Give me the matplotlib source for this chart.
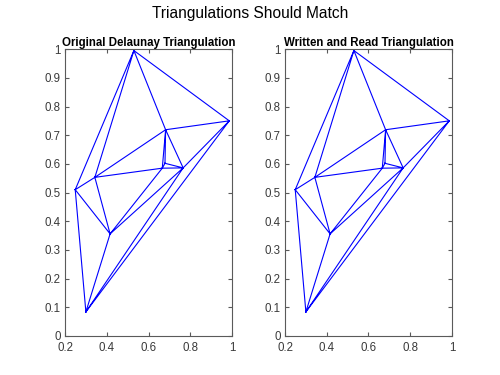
import matplotlib
matplotlib.use("Agg")
import matplotlib.pyplot as plt
import matplotlib.tri as mtri

plt.rcParams['font.family'] = ['Liberation Sans', 'DejaVu Sans']

# vertex coordinates
x = [0.53, 0.987, 0.249, 0.300, 0.343, 0.416, 0.682, 0.666, 0.679, 0.766]
y = [0.995, 0.750, 0.510, 0.084, 0.553, 0.356, 0.719, 0.585, 0.602, 0.586]

# triangles (vertex indices)
triangles = [
    [0, 2, 4], [0, 4, 6], [0, 6, 1], [2, 4, 5], [2, 5, 3],
    [3, 5, 9], [3, 9, 1], [4, 5, 7], [4, 7, 6], [5, 7, 9],
    [6, 9, 1], [6, 8, 9], [6, 7, 8], [7, 8, 9],
]

titles = ['Original Delaunay Triangulation', 'Written and Read Triangulation']
xticks = [0.2, 0.4, 0.6, 0.8, 1]
xticklabels = ['0.2', '0.4', '0.6', '0.8', '1']
yticks = [0, 0.1, 0.2, 0.3, 0.4, 0.5, 0.6, 0.7, 0.8, 0.9, 1]
yticklabels = ['0', '0.1', '0.2', '0.3', '0.4', '0.5', '0.6', '0.7', '0.8', '0.9', '1']

tri = mtri.Triangulation(x, y, triangles)

fig = plt.figure(figsize=(5, 3.75), dpi=100)
axc = '#5a5a5a'
for i, left in enumerate([0.130, 0.570]):
    ax = fig.add_axes([left, 0.104, 0.334, 0.765])
    ax.triplot(tri, color=(0, 0, 1), lw=0.8)
    ax.set_xlim(0.2, 1)
    ax.set_ylim(0, 1)
    ax.set_xticks(xticks)
    ax.set_xticklabels(xticklabels)
    ax.set_yticks(yticks)
    ax.set_yticklabels(yticklabels)
    ax.tick_params(direction='in', top=True, right=True, length=3, width=0.8,
                   color=axc, labelcolor='#3a3a3a', labelsize=8.3)
    ax.tick_params(axis='x', pad=4)
    ax.tick_params(axis='y', pad=3)
    for s in ax.spines.values():
        s.set_color(axc)
        s.set_linewidth(0.8)
    ax.set_title(titles[i], fontsize=8.3, fontweight='bold', pad=2)

fig.suptitle('Triangulations Should Match', fontsize=11.2, y=0.985)
fig.savefig('out.png')
